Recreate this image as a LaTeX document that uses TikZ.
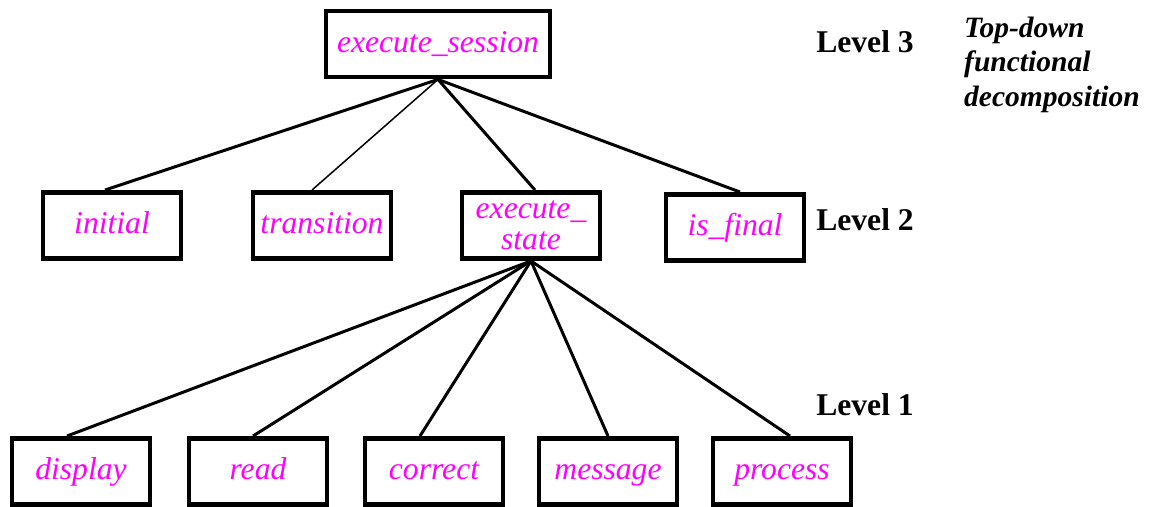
\documentclass[tikz,border=0pt]{standalone}
\usepackage{fontspec}
\setmainfont{Liberation Serif}
\usepackage{tikz}
\usetikzlibrary{positioning}
\definecolor{namecolor}{RGB}{255, 0, 255}
\definecolor{linecolor}{RGB}{0, 0, 0}
\tikzset{
funcblock/.style={
  draw=linecolor,
  line width=2.8pt,
  minimum width=2.76cm,
  minimum height=1.32cm,
  inner sep=2pt,
  align=center,
  font=\fontsize{18}{17.5}\selectfont\itshape,
  text=namecolor
},
wordblock/.style={
  funcblock,
  text height=12.5pt,
  text depth=3pt
},
topblock/.style={
  wordblock,
  minimum width=4.48cm
},
levellabel/.style={
  font=\fontsize{18}{20}\selectfont\bfseries,
  anchor=center
},
notelabel/.style={
  font=\fontsize{16.8}{19.5}\selectfont\bfseries\itshape,
  align=left,
  anchor=north west
},
link/.style={
  line width=1.7pt,
  draw=linecolor
},
thinlink/.style={
  link,
  line width=0.85pt
}
}
\begin{document}
\begin{tikzpicture}
\useasboundingbox (0,0) rectangle (23.06,10.14);

\node[topblock] (session) at (8.76,9.26) {execute\_session};

\node[wordblock] (initial)    at (2.24,5.63)  {initial};
\node[wordblock] (transition) at (6.44,5.63)  {transition};
\node[funcblock] (state)      at (10.62,5.63) {execute\_\\state};
\node[wordblock] (final)      at (14.70,5.59) {is\_final};

\node[wordblock] (display) at (1.62,0.71)  {display};
\node[wordblock] (read)    at (5.16,0.71)  {read};
\node[wordblock] (correct) at (8.68,0.71)  {correct};
\node[wordblock] (message) at (12.16,0.71) {message};
\node[wordblock] (process) at (15.64,0.71) {process};

\node[levellabel] (lvlthree) at (17.30,9.30) {Level 3};
\node[levellabel] (lvltwo)   at (17.30,5.74) {Level 2};
\node[levellabel] (lvlone)   at (17.30,2.04) {Level 1};

\node[notelabel] (note) at (19.16,9.92) {Top-down\\functional\\decomposition};

\draw[link] (session.south) -- ([xshift=-0.14cm]initial.north);
\draw[thinlink] (session.south) -- ([xshift=-0.2cm]transition.north);
\draw[link] (session.south) -- ([xshift=0.08cm]state.north);
\draw[link] (session.south) -- ([xshift=0.1cm]final.north);

\draw[link] (state.south) -- ([xshift=-0.28cm]display.north);
\draw[link] (state.south) -- ([xshift=-0.1cm]read.north);
\draw[link] (state.south) -- ([xshift=-0.28cm]correct.north);
\draw[link] (state.south) -- (message.north);
\draw[link] (state.south) -- ([xshift=0.16cm]process.north);
\end{tikzpicture}
\end{document}
